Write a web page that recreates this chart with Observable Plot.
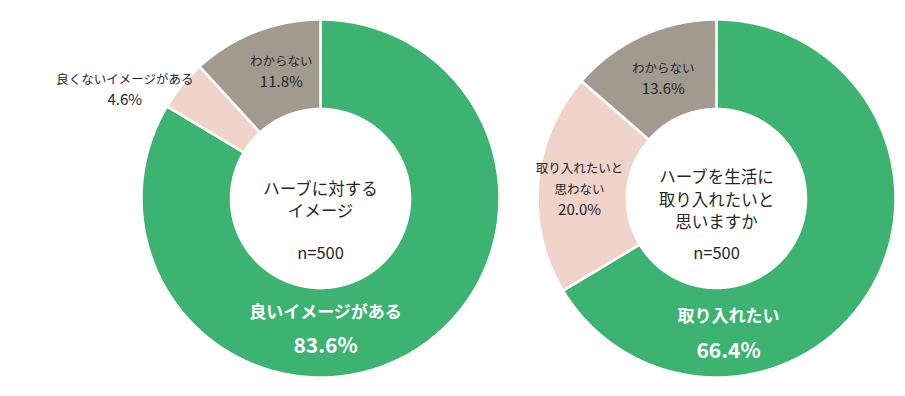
<!DOCTYPE html>
<html><head><meta charset="utf-8">
<script src="https://cdn.jsdelivr.net/npm/d3@7"></script>
<script src="https://cdn.jsdelivr.net/npm/@observablehq/plot@0.6"></script>
<style>body{margin:0;background:#fff;} #chart svg{display:block;}</style>
</head><body><div id="chart"></div>
<script>
// ---- data ----
const leftCategories = ["良いイメージがある", "良くないイメージがある", "わからない"];
const leftValues = [83.6, 4.6, 11.8];
const rightCategories = ["取り入れたい", "取り入れたいと思わない", "わからない"];
const rightValues = [66.4, 20.0, 13.6];
const leftDisplay = ["良いイメージがある", "良くないイメージがある", "わからない"];
const rightDisplay = ["取り入れたい", "取り入れたいと\n思わない", "わからない"];
const sliceKinds = ["positive", "negative", "unknown"];
const sliceColors = ["#3cb371", "#f0d4c9", "#a39a8f"];
const leftTitle = "ハーブに対する\nイメージ";
const rightTitle = "ハーブを生活に\n取り入れたいと\n思いますか";
const sampleSize = "n=500";

// ---- layout (units of outer radius) ----
const R = 179;                  // px per unit
const holeRatio = 0.5;
const donuts = [
  {id: "L", cx: 0, cy: 0, cats: leftCategories, vals: leftValues, disp: leftDisplay, title: leftTitle,
   labelPos: [[177.8, 0.73], [299, 1.25], [342.8, 0.74]]},
  {id: "R", cx: 396 / R, cy: 0, cats: rightCategories, vals: rightValues, disp: rightDisplay, title: rightTitle,
   labelPos: [[174.9, 0.76], [269.2, 0.765], [336, 0.73]]}
];

const rad = d => d * Math.PI / 180;
const pts = [];
const labels = [];
for (const dn of donuts) {
  const total = d3.sum(dn.vals);
  let acc = 0;
  dn.vals.forEach((v, i) => {
    const a0 = acc / total * 360, a1 = (acc + v) / total * 360;
    acc += v;
    const id = dn.id + i;
    const n = Math.max(2, Math.ceil((a1 - a0) / 0.5));
    const ring = [];
    for (let k = 0; k <= n; k++) { const a = rad(a0 + (a1 - a0) * k / n); ring.push([Math.sin(a), Math.cos(a)]); }
    for (let k = n; k >= 0; k--) { const a = rad(a0 + (a1 - a0) * k / n); ring.push([holeRatio * Math.sin(a), holeRatio * Math.cos(a)]); }
    ring.push(ring[0]);
    for (const [px, py] of ring) pts.push({id, kind: sliceKinds[i], x: dn.cx + px, y: dn.cy + py});
    const [th, rf] = dn.labelPos[i];
    labels.push({
      kind: sliceKinds[i], name: dn.disp[i], value: dn.vals[i].toFixed(1) + "%",
      x: dn.cx + rf * Math.sin(rad(th)), y: dn.cy + rf * Math.cos(rad(th))
    });
  });
}
const centers = donuts.map(d => ({x: d.cx, y: d.cy, title: d.title}));
const big = labels.filter(d => d.kind === "positive");
const small = labels.filter(d => d.kind !== "positive");
const textColor = "#262626";

const chart = Plot.plot({
  width: 905, height: 396, margin: 0,
  style: {fontFamily: "'Noto Sans CJK JP', 'Noto Sans', sans-serif", background: "#fff"},
  x: {domain: [-320 / R, 585 / R], axis: null},
  y: {domain: [-198 / R, 198 / R], axis: null},
  color: {domain: sliceKinds, range: sliceColors},
  marks: [
    Plot.line(pts, {x: "x", y: "y", z: "id", fill: "kind", stroke: "white", strokeWidth: 2.5, curve: "linear"}),
    Plot.text(centers, {x: "x", y: "y", text: "title", fontSize: 16.5, lineHeight: 1.34, fill: textColor, dy: 0}),
    Plot.text(centers, {x: "x", y: "y", text: () => sampleSize, fontSize: 16.5, fill: textColor, dy: 55, style: "letter-spacing:0.8px"}),
    Plot.text(big, {x: "x", y: "y", text: "name", fontSize: 17, fontWeight: "bold", fill: "white", dy: -17}),
    Plot.text(big, {x: "x", y: "y", text: "value", fontSize: 21, fontWeight: "bold", fill: "white", dy: 17, style: "letter-spacing:2px"}),
    Plot.text(small, {x: "x", y: "y", text: "name", fontSize: 12.5, lineHeight: 1.75, lineAnchor: "bottom", fill: textColor, dy: -6}),
    Plot.text(small, {x: "x", y: "y", text: "value", fontSize: 15, fill: textColor, lineAnchor: "top", dy: 4, style: "letter-spacing:1px"})
  ]
});
document.getElementById("chart").append(chart);
</script>
</body></html>
